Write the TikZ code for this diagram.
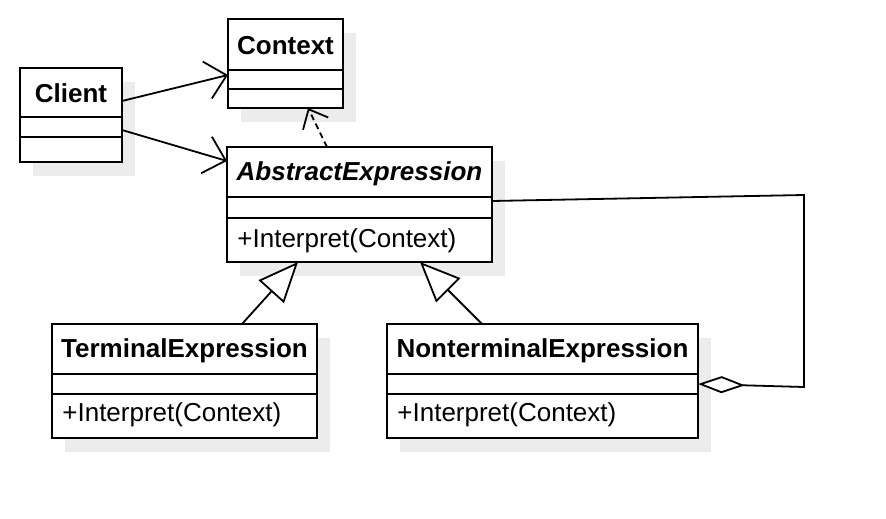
\documentclass[tikz,border=0pt]{standalone}
\usepackage{fontspec}
\setmainfont{Liberation Sans}
\usetikzlibrary{arrows.meta}
\definecolor{shadowc}{HTML}{ECECEC}
\tikzset{
  boxline/.style={line width=1pt, draw=black},
  classbox/.style={boxline, fill=white, rectangle, inner sep=0pt, outer sep=0pt, anchor=north west},
  titletext/.style={font=\fontsize{13}{15}\selectfont\bfseries, inner sep=0pt},
  optext/.style={font=\fontsize{13}{15}\selectfont, inner sep=0pt, anchor=west},
  conn/.style={line width=0.9pt},
  openarrow/.style={conn, -{Straight Barb[length=10pt,width=19pt,line width=0.9pt]}},
  inherit/.style={conn, -{Triangle[open,length=20pt,width=17pt,line width=0.9pt,fill=white]}},
}
\newcommand{\umlclass}[7]{%
  \fill[shadowc] (#2+13,#3+14) rectangle ++(#4,#5);
  \node[classbox, minimum width=#4*0.5pt, minimum height=#5*0.5pt] (#1) at (#2,#3) {};
  \draw[boxline] ([yshift=-#6*0.5pt]#1.north west) -- ([yshift=-#6*0.5pt]#1.north east);
  \draw[boxline] ([yshift=-#7*0.5pt]#1.north west) -- ([yshift=-#7*0.5pt]#1.north east);
}
\begin{document}
\begin{tikzpicture}[x=0.5pt,y=-0.5pt]
\useasboundingbox[fill=white] (0,0) rectangle (886,518);
% classes
\umlclass{client}{20}{68}{102}{94}{49}{69}
\umlclass{context}{228}{19}{115}{89}{51}{70}
\umlclass{abs}{227}{147}{265}{115}{50}{71}
\umlclass{term}{52}{324}{265}{114}{50}{70}
\umlclass{nonterm}{387}{324}{311}{114}{50}{70}
% titles
\node[titletext] (clientT) at ([yshift=-12.8pt]client.north) {Client};
\node[titletext] (contextT) at ([yshift=-13.2pt]context.north) {Context};
\node[titletext, font=\fontsize{13}{15}\selectfont\bfseries\itshape] (absT) at ([yshift=-13.3pt]abs.north) {AbstractExpression};
\node[titletext] (termT) at ([yshift=-13.3pt]term.north) {TerminalExpression};
\node[titletext] (nontermT) at ([yshift=-13.3pt]nonterm.north) {NonterminalExpression};
% operations
\node[optext] (absOp) at ([xshift=5pt,yshift=-47pt]abs.north west) {+Interpret(Context)};
\node[optext] (termOp) at ([xshift=5pt,yshift=-45.5pt]term.north west) {+Interpret(Context)};
\node[optext] (nontermOp) at ([xshift=5pt,yshift=-45.5pt]nonterm.north west) {+Interpret(Context)};
% connectors
\draw[openarrow] ([yshift=-16.5pt]client.north east) -- ([yshift=-28pt]context.north west);
\draw[openarrow] ([yshift=-31pt]client.north east) -- ([yshift=-7pt]abs.north west);
\draw[conn, dashed, dash pattern=on 3pt off 2pt, -{Straight Barb[length=8pt,width=14pt,line width=0.9pt]}] ([xshift=50pt]abs.north west) -- ([xshift=40pt]context.south west);
\draw[inherit] ([xshift=95pt]term.north west) -- ([xshift=35.5pt]abs.south west);
\draw[inherit] ([xshift=47.5pt]nonterm.north west) -- ([xshift=96.5pt]abs.south west);
\coordinate (c1) at (804,195);
\coordinate (c2) at (804,387);
\draw[conn, {Diamond[open,length=23.5pt,width=8.5pt,line width=0.9pt,fill=white]}-] ([yshift=-30pt]nonterm.north east) -- (c2) -- (c1) -- ([yshift=-27pt]abs.north east);
\end{tikzpicture}
\end{document}
